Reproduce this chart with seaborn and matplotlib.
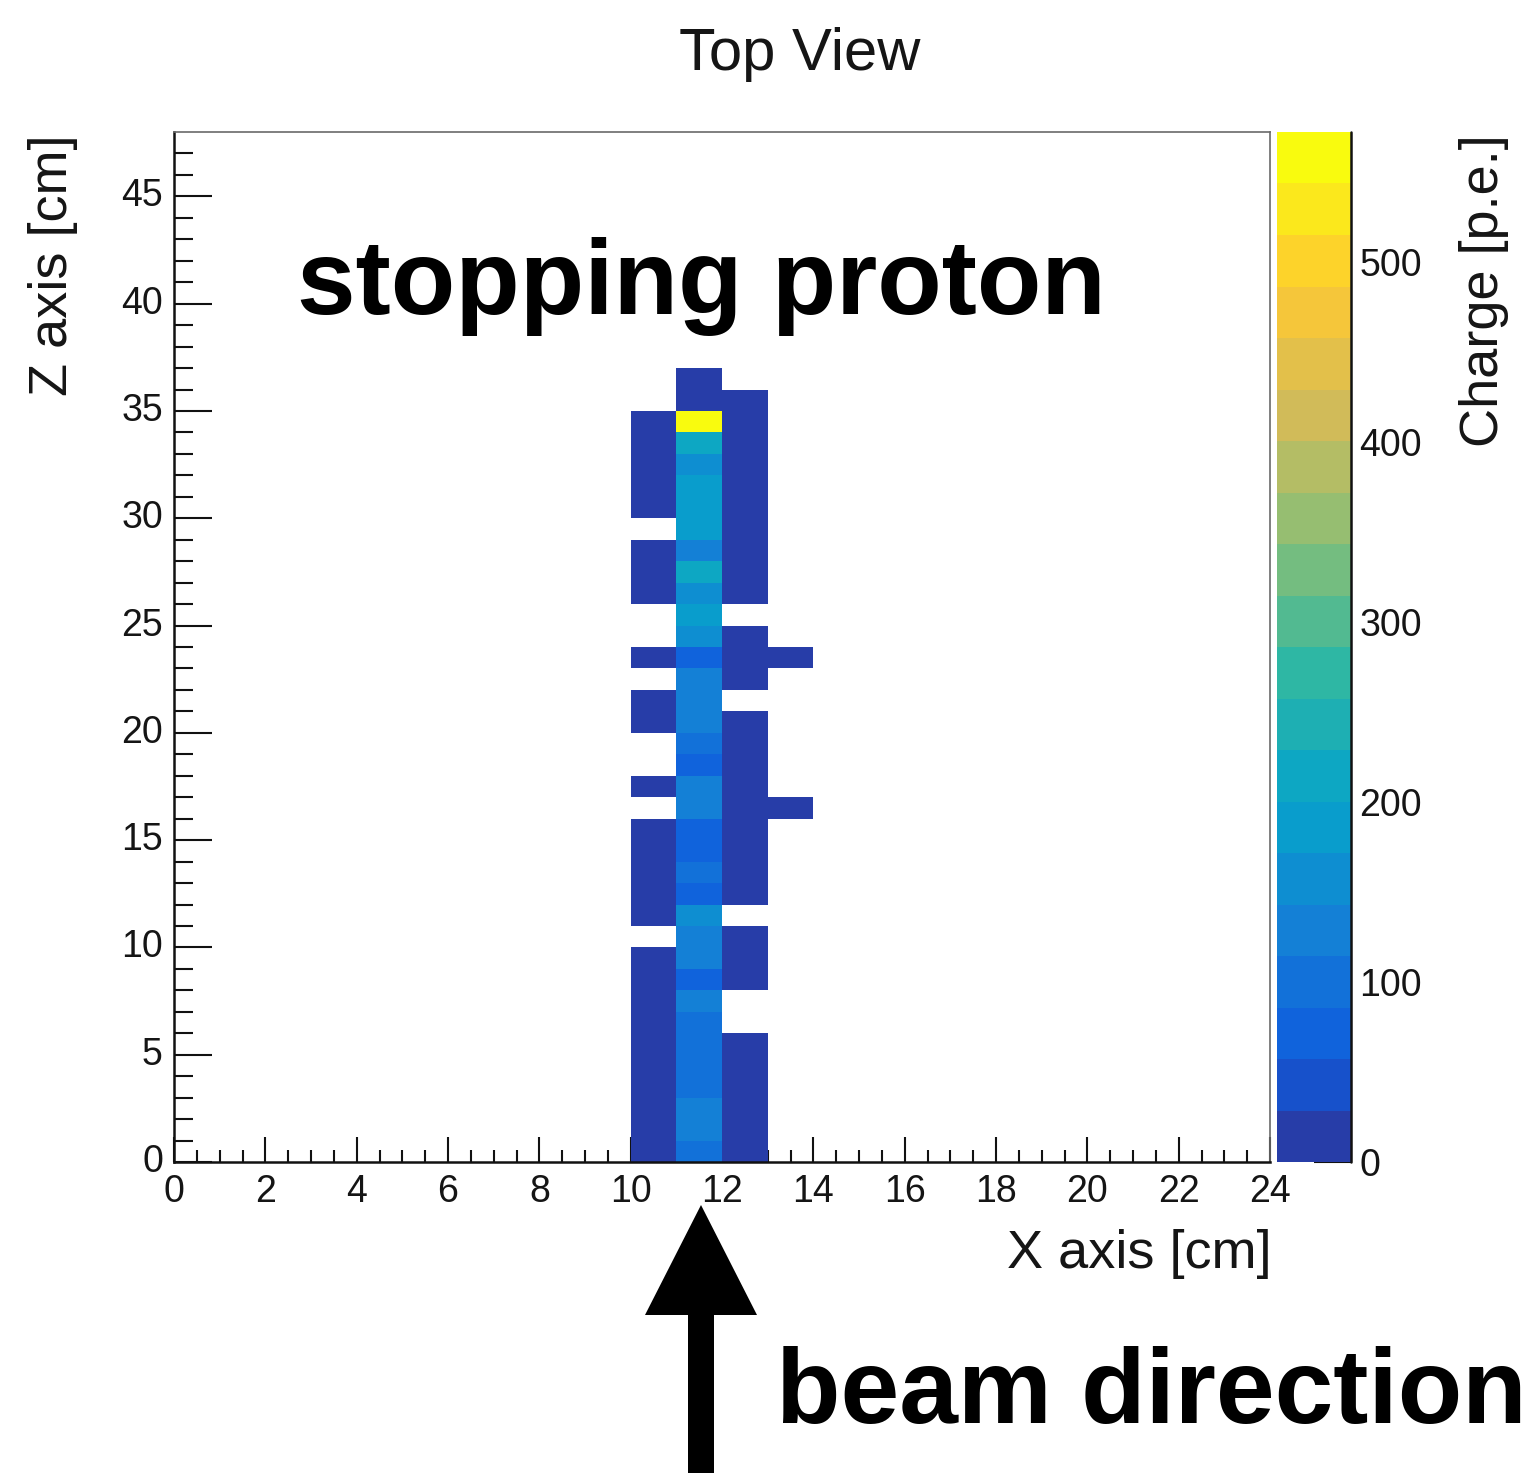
import numpy as np
import pandas as pd
import matplotlib
matplotlib.use("Agg")
import matplotlib.pyplot as plt
from matplotlib.colors import LinearSegmentedColormap, ListedColormap
from matplotlib.patches import Polygon
import seaborn as sns

nan = np.nan

# Detector cells are 1 cm x 1 cm: 24 columns in X, 48 rows in Z
n_x_bins = 24
n_z_bins = 48

# Charge [p.e.] per cell, index = Z bin (0..36), for the four X columns that fired
charge_x10 = [18, 22, 15, 20, 12, 17, 24, 14, 19, 16,
              nan, 21, 13, 18, 25, 11, nan, 17, nan, nan,
              20, 14, nan, 16, nan, nan, 22, 19, 13, nan,
              18, 24, 15, 20, 12, nan, nan]
charge_x11 = [100, 135, 130, 110, 105, 108, 112, 138, 72, 135,
              140, 165, 75, 105, 80, 78, 130, 125, 70, 95,
              120, 135, 140, 65, 155, 180, 160, 205, 135, 185,
              190, 200, 160, 205, 572, 20, 15]
charge_x12 = [14, 19, 23, 12, 17, 21, nan, nan, 16, 25,
              13, nan, 18, 22, 11, 15, 26, 19, 14, 20,
              17, nan, 23, 12, 16, nan, 21, 15, 18, 24,
              13, 19, 22, 16, 11, 20, nan]
charge_x13 = [nan, nan, nan, nan, nan, nan, nan, nan, nan, nan,
              nan, nan, nan, nan, nan, nan, 15, nan, nan, nan,
              nan, nan, nan, 18, nan, nan, nan, nan, nan, nan,
              nan, nan, nan, nan, nan, nan, nan]
hit_columns = {10: charge_x10, 11: charge_x11, 12: charge_x12, 13: charge_x13}

x_major_ticks = [0, 2, 4, 6, 8, 10, 12, 14, 16, 18, 20, 22, 24]
z_major_ticks = [0, 5, 10, 15, 20, 25, 30, 35, 40, 45]
charge_ticks = [0, 100, 200, 300, 400, 500]
charge_max = 572
n_contours = 20

# Cell grid: rows = Z bins, columns = X bins, empty cells left as NaN
grid = np.full((n_z_bins, n_x_bins), np.nan)
for col, values in hit_columns.items():
    grid[:len(values), col] = values
df = pd.DataFrame(grid, index=range(n_z_bins), columns=range(n_x_bins))

# ROOT "kBird" palette, discretised into 20 contour colours
bird_stops = [0.0, 0.125, 0.25, 0.375, 0.5, 0.625, 0.75, 0.875, 1.0]
bird_r = [0.2082, 0.0592, 0.0780, 0.0232, 0.1802, 0.5301, 0.8186, 0.9956, 0.9764]
bird_g = [0.1664, 0.3599, 0.5041, 0.6419, 0.7178, 0.7492, 0.7328, 0.7862, 0.9832]
bird_b = [0.5293, 0.8684, 0.8385, 0.7914, 0.6425, 0.4662, 0.3499, 0.1968, 0.0539]
bird = LinearSegmentedColormap.from_list(
    "bird", list(zip(bird_stops, zip(bird_r, bird_g, bird_b))), N=255)
level_colors = [bird(int((i + 0.99) * 255 / n_contours) / 254.0) for i in range(n_contours)]
cmap = ListedColormap(level_colors)

sns.set_style("white")
plt.rcParams["font.family"] = ["Liberation Sans", "DejaVu Sans"]

W, H = 1538, 1473
fig = plt.figure(figsize=(W / 100, H / 100), dpi=100)


def box(left, top, right, bottom):
    return [left / W, 1 - bottom / H, (right - left) / W, (bottom - top) / H]


ax = fig.add_axes(box(174, 132, 1270, 1162))
cax = fig.add_axes(box(1277, 132, 1351, 1162))

sns.heatmap(df, ax=ax, cbar_ax=cax, cmap=cmap, vmin=0, vmax=charge_max,
            xticklabels=False, yticklabels=False, linewidths=0)

ax.set_xlim(0, n_x_bins)
ax.set_ylim(0, n_z_bins)
ax.set_xlabel("")
ax.set_ylabel("")

# Axis ticks, ROOT style: pointing inwards
ax.set_xticks(x_major_ticks)
ax.set_xticklabels([str(t) for t in x_major_ticks])
ax.set_xticks(np.arange(0, n_x_bins + 0.1, 0.5), minor=True)
ax.set_yticks(z_major_ticks)
ax.set_yticklabels([str(t) for t in z_major_ticks])
ax.set_yticks(np.arange(0, n_z_bins, 1), minor=True)
ax.tick_params(axis="x", which="major", direction="in", length=18, width=1.5,
               pad=9, labelsize=27, labelcolor="#151515", color="#111111",
               bottom=True, top=False)
ax.tick_params(axis="x", which="minor", direction="in", length=9, width=1.5,
               color="#111111", bottom=True, top=False)
ax.tick_params(axis="y", which="major", direction="in", length=27, width=1.5,
               pad=8, labelsize=27, labelcolor="#151515", color="#111111",
               left=True, right=False)
ax.tick_params(axis="y", which="minor", direction="in", length=14, width=1.5,
               color="#111111", left=True, right=False)
for label in ax.get_yticklabels():
    label.set_rotation(0)
    label.set_va("center")

for side in ["left", "bottom"]:
    ax.spines[side].set_visible(True)
    ax.spines[side].set_color("#111111")
    ax.spines[side].set_linewidth(1.8)
for side in ["top", "right"]:
    ax.spines[side].set_visible(True)
    ax.spines[side].set_color("#6a6a6a")
    ax.spines[side].set_linewidth(1.2)

# Palette axis on the right
cbar = ax.collections[0].colorbar
cbar.set_ticks(charge_ticks)
cbar.set_ticklabels([str(t) for t in charge_ticks])
cbar.outline.set_visible(False)
cax.yaxis.set_ticks_position("right")
cax.tick_params(axis="y", which="major", direction="in", length=27, width=1.5,
                pad=6, labelsize=27, labelcolor="#151515", color="#111111")
cax.tick_params(axis="y", which="minor", length=0)
cax.plot([1, 1], [0, 1], transform=cax.transAxes, color="#111111", lw=1.8,
         clip_on=False)

# Titles
fig.text(800 / W, 1 - 70 / H, "Top View", ha="center", va="baseline",
         fontsize=43, color="#151515")
fig.text(1272 / W, 1 - 1268 / H, "X axis [cm]", ha="right", va="baseline",
         fontsize=39, color="#151515")
fig.text(53 / W, 1 - 134 / H, "Z axis [cm]", rotation=90, ha="center", va="top",
         fontsize=39, color="#151515")
fig.text(1484 / W, 1 - 134 / H, "Charge [p.e.]", rotation=90, ha="center",
         va="top", fontsize=39, color="#151515")

# Annotations
fig.text(701 / W, 1 - 314 / H, "stopping proton", ha="center", va="baseline",
         fontsize=76, fontweight="bold", color="black")
fig.text(1151 / W, 1 - 1423 / H, "beam direction", ha="center", va="baseline",
         fontsize=76, fontweight="bold", color="black")

overlay = fig.add_axes([0, 0, 1, 1])
overlay.set_xlim(0, W)
overlay.set_ylim(H, 0)
overlay.axis("off")
arrow = Polygon([(701, 1205), (757, 1315), (714, 1315), (714, 1473),
                 (688, 1473), (688, 1315), (645, 1315)],
                closed=True, facecolor="black", edgecolor="none")
overlay.add_patch(arrow)

fig.savefig("out.png", dpi=100)
